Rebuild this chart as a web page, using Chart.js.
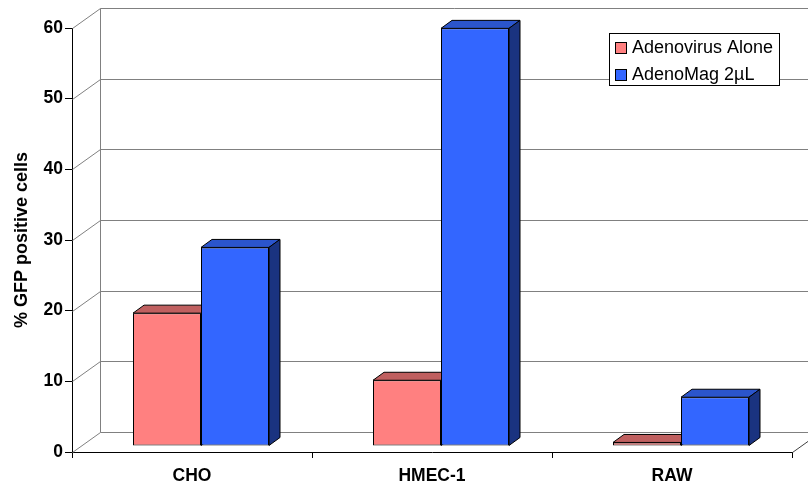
<!DOCTYPE html>
<html>
<head>
<meta charset="utf-8">
<title>GFP positive cells</title>
<script src="https://cdn.jsdelivr.net/npm/chart.js@4"></script>
<style>
  html, body { margin: 0; padding: 0; background: #fff; }
  #wrap { width: 808px; height: 486px; position: relative; }
</style>
</head>
<body>
<div id="wrap"><canvas id="gfpChart"></canvas></div>
<script>
// cell lines and transduction results (% GFP positive cells)
const cellLines = ['CHO', 'HMEC-1', 'RAW'];
const seriesNames = ['Adenovirus Alone', 'AdenoMag 2\u00b5L'];
const adenovirusAlone = [18.8, 9.3, 0.5];
const adenoMag = [28.1, 59.1, 6.9];
const yTicks = [0, 10, 20, 30, 40, 50, 60];

const FONT = "'Liberation Sans', Arial, Helvetica, sans-serif";

// pseudo-3D geometry
const WALL = { dx: 28, dy: -20 };   // back wall offset from the front axis
const PLANE = { dx: 9, dy: -6 };    // bars stand a little behind the front edge
const DEPTH = { dx: 11, dy: -8 };   // thickness of each column

const faceColors = [
    { top: '#c06060', side: '#9a4848' },
    { top: '#2b55cc', side: '#1a3380' }
];

const box3d = {
    id: 'box3d',
    beforeDatasetsDraw(chart) {
        const { ctx, chartArea: a, scales: { y } } = chart;
        const left = Math.round(a.left) + 0.5;
        const backX = left + WALL.dx;

        // side wall diagonals + back wall gridlines
        ctx.save();
        ctx.strokeStyle = '#808080';
        ctx.lineWidth = 1;
        ctx.beginPath();
        yTicks.forEach(v => {
            const py = Math.round(y.getPixelForValue(v)) + 0.5;
            ctx.moveTo(left, py);
            ctx.lineTo(backX, py + WALL.dy);
            ctx.lineTo(chart.width + 2, py + WALL.dy);
        });
        const topY = Math.round(y.getPixelForValue(60)) + 0.5 + WALL.dy;
        const botY = Math.round(y.getPixelForValue(0)) + 0.5 + WALL.dy;
        ctx.moveTo(backX, topY);
        ctx.lineTo(backX, botY);
        ctx.stroke();

        // right edge of the floor
        ctx.strokeStyle = '#404040';
        ctx.beginPath();
        ctx.moveTo(Math.round(a.right) + 0.5, Math.round(a.bottom) + 0.5);
        ctx.lineTo(Math.round(a.right) + 0.5 + WALL.dx, Math.round(a.bottom) + 0.5 + WALL.dy);
        ctx.stroke();
        ctx.restore();

        // top and side faces go under the front faces Chart.js draws next
        ctx.save();
        ctx.translate(PLANE.dx, PLANE.dy);
        ctx.lineWidth = 1;
        ctx.strokeStyle = '#000';
        ctx.lineJoin = 'round';
        chart.data.datasets.forEach((ds, i) => {
            const meta = chart.getDatasetMeta(i);
            meta.data.forEach(bar => {
                const { x, y: top, base, width } = bar.getProps(['x', 'y', 'base', 'width'], true);
                const l = x - width / 2;
                const r = x + width / 2;

                ctx.fillStyle = faceColors[i].top;
                ctx.beginPath();
                ctx.moveTo(l, top);
                ctx.lineTo(l + DEPTH.dx, top + DEPTH.dy);
                ctx.lineTo(r + DEPTH.dx, top + DEPTH.dy);
                ctx.lineTo(r, top);
                ctx.closePath();
                ctx.fill();
                ctx.stroke();

                ctx.fillStyle = faceColors[i].side;
                ctx.beginPath();
                ctx.moveTo(r, top);
                ctx.lineTo(r + DEPTH.dx, top + DEPTH.dy);
                ctx.lineTo(r + DEPTH.dx, base + DEPTH.dy);
                ctx.lineTo(r, base);
                ctx.closePath();
                ctx.fill();
                ctx.stroke();
            });
        });
    },
    afterDatasetsDraw(chart) {
        chart.ctx.restore();
    }
};

const boxLegend = {
    id: 'boxLegend',
    afterDraw(chart) {
        const { ctx } = chart;
        const bx = 609, by = 33, bw = 170, bh = 52;
        ctx.save();
        ctx.fillStyle = '#fff';
        ctx.fillRect(bx, by, bw, bh);
        ctx.strokeStyle = '#000';
        ctx.lineWidth = 1;
        ctx.strokeRect(bx + 0.5, by + 0.5, bw, bh);

        ctx.font = '18px ' + FONT;
        ctx.textBaseline = 'middle';
        ctx.textAlign = 'left';
        chart.data.datasets.forEach((ds, i) => {
            const rowY = by + 9 + i * 27;
            ctx.fillStyle = ds.backgroundColor;
            ctx.fillRect(bx + 6, rowY, 11, 11);
            ctx.strokeRect(bx + 6.5, rowY + 0.5, 11, 11);
            ctx.fillStyle = '#000';
            ctx.fillText(ds.label, bx + 23, rowY + 6.5);
        });
        ctx.restore();
    }
};

document.addEventListener('DOMContentLoaded', function() {
    const ctx = document.getElementById('gfpChart').getContext('2d');
    new Chart(ctx, {
        type: 'bar',
        data: {
            labels: cellLines,
            datasets: [{
                label: seriesNames[0],
                data: adenovirusAlone,
                backgroundColor: '#ff8080',
                borderColor: '#000',
                borderWidth: 1,
                borderSkipped: false
            }, {
                label: seriesNames[1],
                data: adenoMag,
                backgroundColor: '#3366ff',
                borderColor: '#000',
                borderWidth: 1,
                borderSkipped: false
            }]
        },
        options: {
            responsive: true,
            maintainAspectRatio: false,
            animation: false,
            clip: false,
            datasets: {
                bar: {
                    categoryPercentage: 136 / 240,
                    barPercentage: 1,
                    clip: false
                }
            },
            layout: {
                padding: { top: 28, right: 16, left: 0, bottom: 0 }
            },
            scales: {
                x: {
                    afterFit: s => { s.height = 34; },
                    grid: {
                        drawOnChartArea: false,
                        offset: true,
                        tickLength: 6,
                        color: '#000'
                    },
                    border: { color: '#000' },
                    ticks: {
                        color: '#000',
                        padding: 8,
                        font: { family: FONT, size: 17.5, weight: 'bold' }
                    }
                },
                y: {
                    min: 0,
                    max: 60,
                    afterFit: s => { s.width = 72; },
                    afterBuildTicks: s => { s.ticks = yTicks.map(v => ({ value: v })); },
                    grid: {
                        drawOnChartArea: false,
                        tickLength: 7,
                        color: '#000'
                    },
                    border: { color: '#000' },
                    ticks: {
                        color: '#000',
                        padding: 2,
                        font: { family: FONT, size: 17.5, weight: 'bold' }
                    },
                    title: {
                        display: true,
                        text: '% GFP positive cells',
                        color: '#000',
                        padding: { top: 11, bottom: 0 },
                        font: { family: FONT, size: 18, weight: 'bold' }
                    }
                }
            },
            plugins: {
                legend: { display: false },
                tooltip: { enabled: false }
            }
        },
        plugins: [box3d, boxLegend]
    });
});
</script>
</body>
</html>
